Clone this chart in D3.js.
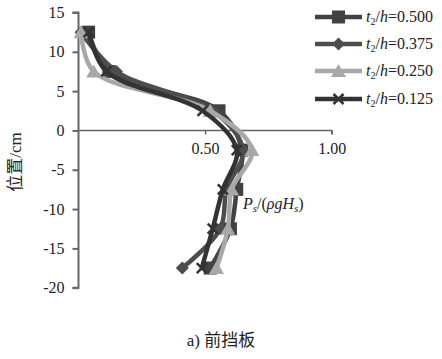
<!DOCTYPE html>
<html>
<head>
<meta charset="utf-8">
<script src="https://cdn.jsdelivr.net/npm/d3@7"></script>
<style>
  body { margin: 0; background: #fff; }
  svg { display: block; }
  text { font-family: "Liberation Serif", "Times New Roman", serif; fill: #222; }
  .cjk { font-family: "Noto Sans CJK SC", sans-serif; }
</style>
</head>
<body>
<script>
// Heights (cm) at which pressure was sampled
const positions = [12.5, 7.5, 2.5, -2.5, -7.5, -12.5, -17.5];
// Dimensionless pressure Ps/(ρgHs) per plate-thickness ratio
const s500 = [0.040, 0.120, 0.555, 0.645, 0.625, 0.600, 0.520];
const s375 = [0.010, 0.150, 0.530, 0.650, 0.585, 0.560, 0.410];
const s250 = [0.010, 0.060, 0.520, 0.685, 0.605, 0.590, 0.545];
const s125 = [0.040, 0.110, 0.490, 0.625, 0.570, 0.530, 0.487];
const seriesNames = ["0.500", "0.375", "0.250", "0.125"];
const xTicks = [0.5, 1.0];
const yTicks = [15, 10, 5, 0, -5, -10, -15, -20];

const W = 442, H = 359;
const svg = d3.select("body").append("svg").attr("width", W).attr("height", H);

const x = d3.scaleLinear().domain([0, 1]).range([78.5, 331.7]);
const y = d3.scaleLinear().domain([-20, 15]).range([287.7, 12.5]);

const series = [
  { name: seriesNames[0], vals: s500, color: "#424242", marker: "square" },
  { name: seriesNames[1], vals: s375, color: "#4d4d4d", marker: "diamond" },
  { name: seriesNames[2], vals: s250, color: "#a8a8a8", marker: "triangle" },
  { name: seriesNames[3], vals: s125, color: "#333333", marker: "cross" }
];

const serif = "'Liberation Serif', 'Times New Roman', serif";

// Axes
const yAxis = svg.append("g").attr("transform", `translate(${x(0)},0)`)
  .call(d3.axisLeft(y).tickValues(yTicks).tickSize(6).tickFormat(d => String(d)));
yAxis.attr("font-family", null).attr("font-size", null);
yAxis.select(".domain").attr("stroke", "#666").attr("stroke-width", 2).attr("d", `M-6,${y(15)}H0V${y(-20)}H-6`);
yAxis.selectAll(".tick line").attr("stroke", "#666").attr("stroke-width", 2);
yAxis.selectAll(".tick text").attr("x", -14).style("font-size", "16px").style("font-family", serif).attr("fill", "#222");

const xAxis = svg.append("g").attr("transform", `translate(0,${y(0)})`)
  .call(d3.axisBottom(x).tickValues(xTicks).tickSize(4).tickFormat(d3.format(".2f")));
xAxis.attr("font-family", null).attr("font-size", null);
xAxis.select(".domain").attr("stroke", "#666").attr("stroke-width", 1.5).attr("d", `M${x(0)},0H${x(1)}V4`);
xAxis.selectAll(".tick line").attr("stroke", "#666").attr("stroke-width", 1.5);
xAxis.selectAll(".tick text").attr("y", 12).style("font-size", "16px").style("font-family", serif).attr("fill", "#222");

// Markers
function drawMarker(g, type, cx, cy, color) {
  if (type === "square") {
    g.append("rect").attr("x", cx - 6.5).attr("y", cy - 6.5).attr("width", 13).attr("height", 13).attr("fill", color);
  } else if (type === "diamond") {
    g.append("path").attr("d", `M${cx},${cy - 6.5}L${cx + 6.5},${cy}L${cx},${cy + 6.5}L${cx - 6.5},${cy}Z`).attr("fill", color);
  } else if (type === "triangle") {
    g.append("path").attr("d", `M${cx},${cy - 7}L${cx + 7.5},${cy + 6}L${cx - 7.5},${cy + 6}Z`).attr("fill", color);
  } else {
    g.append("path").attr("d", `M${cx - 5},${cy - 5}L${cx + 5},${cy + 5}M${cx - 5},${cy + 5}L${cx + 5},${cy - 5}`)
      .attr("stroke", color).attr("stroke-width", 2.5).attr("fill", "none");
  }
}

const line = d3.line().x(d => x(d[0])).y(d => y(d[1])).curve(d3.curveCatmullRom.alpha(0.5));

series.forEach(s => {
  const pts = s.vals.map((v, i) => [v, positions[i]]);
  svg.append("path").datum(pts).attr("d", line)
    .attr("fill", "none").attr("stroke", s.color).attr("stroke-width", 4.5)
    .attr("stroke-linejoin", "round").attr("stroke-linecap", "round");
  const mg = svg.append("g");
  pts.forEach(p => drawMarker(mg, s.marker, x(p[0]), y(p[1]), s.color));
});

// Legend
const legendY = [17, 44, 71, 99];
series.forEach((s, i) => {
  const g = svg.append("g");
  const ly = legendY[i];
  g.append("line").attr("x1", 315).attr("x2", 362).attr("y1", ly).attr("y2", ly)
    .attr("stroke", s.color).attr("stroke-width", 4.5);
  drawMarker(g, s.marker, 338.5, ly, s.color);
  const t = g.append("text").attr("x", 366).attr("y", ly + 5).style("font-size", "16px");
  t.append("tspan").text("t").style("font-style", "italic");
  t.append("tspan").text("2").attr("dy", 3).style("font-size", "10px");
  t.append("tspan").text("/").attr("dy", -3);
  t.append("tspan").text("h").style("font-style", "italic");
  t.append("tspan").text("=" + s.name);
});

// X axis title
const xt = svg.append("text").attr("x", 243).attr("y", 209).style("font-size", "16px");
xt.append("tspan").text("P").style("font-style", "italic");
xt.append("tspan").text("s").attr("dy", 3).style("font-size", "11px").style("font-style", "italic");
xt.append("tspan").text("/(").attr("dy", -3);
xt.append("tspan").text("ρgH").style("font-style", "italic");
xt.append("tspan").text("s").attr("dy", 3).style("font-size", "11px").style("font-style", "italic");
xt.append("tspan").text(")").attr("dy", -3);

// Y axis title
const yt = svg.append("text").attr("transform", "translate(21,162) rotate(-90)")
  .attr("text-anchor", "middle").style("font-size", "17px");
yt.append("tspan").attr("class", "cjk").text("位置");
yt.append("tspan").text("/cm");

// Caption
const cap = svg.append("text").attr("x", 221).attr("y", 346).attr("text-anchor", "middle").style("font-size", "17px");
cap.append("tspan").text("a) ");
cap.append("tspan").attr("class", "cjk").text("前挡板");
</script>
</body>
</html>
